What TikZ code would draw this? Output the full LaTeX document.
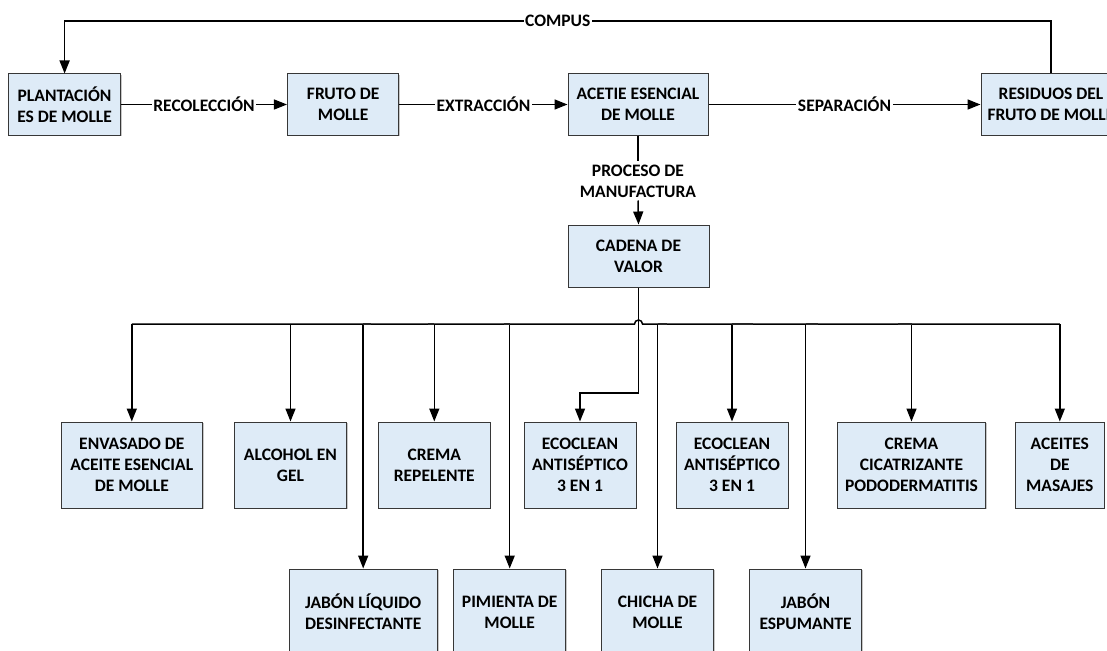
\documentclass[tikz,border=0pt]{standalone}
\usepackage{fontspec}
\setmainfont{Carlito}
\usetikzlibrary{arrows.meta,shadows}
\definecolor{boxfill}{RGB}{222,235,247}
\definecolor{boxline}{RGB}{55,55,55}

\begin{document}
\begin{tikzpicture}[x=1pt,y=-1pt,
  txt/.style={font=\fontsize{17.5}{21}\selectfont\bfseries, align=center},
  box/.style={txt, draw=boxline, fill=boxfill, line width=1pt, inner sep=0pt,
    drop shadow={shadow xshift=1.2pt, shadow yshift=-1.2pt, opacity=0.22, fill=black}},
  top/.style={box, minimum height=61},
  mid/.style={box, minimum height=86},
  conn/.style={draw=black, line width=1.5pt},
  arr/.style={-{Triangle[length=13pt,width=10pt]}},
  lbl/.style={txt, fill=white, inner xsep=1.5pt, inner ysep=1pt},
  seam/.style={draw=black!85, line width=2.1pt}]

\useasboundingbox (0,0) rectangle (1107,650);
\clip (0,0) rectangle (1107,650);

% upper process chain
\node[top, minimum width=112]   (plant)  at (64.6,104.5) {PLANTACIÓN\\ES DE MOLLE};
\node[top, minimum width=111.5] (fruto)  at (343.2,104.5) {FRUTO DE\\MOLLE};
\node[top, minimum width=140]   (acetie) at (638,104.5) {ACETIE ESENCIAL\\DE MOLLE};
\node[top, minimum width=140]   (resid)  at (1051,104.5) {RESIDUOS DEL\\FRUTO DE MOLLE};
\node[top, minimum width=141, minimum height=62] (cadena) at (638.5,256) {CADENA DE\\VALOR};

% products, first row
\node[mid, minimum width=141]   (envasado) at (131.8,465) {ENVASADO DE\\ACEITE ESENCIAL\\DE MOLLE};
\node[mid, minimum width=112]   (alcohol)  at (290.5,465) {ALCOHOL EN\\GEL};
\node[mid, minimum width=111.5] (crema)    at (434.3,465) {CREMA\\REPELENTE};
\node[mid, minimum width=112]   (eco1)     at (580,465)   {ECOCLEAN\\ANTISÉPTICO\\3 EN 1};
\node[mid, minimum width=112]   (eco2)     at (732,465)   {ECOCLEAN\\ANTISÉPTICO\\3 EN 1};
\node[mid, minimum width=148]   (cicatr)   at (911.5,465) {CREMA\\CICATRIZANTE\\PODODERMATITIS};
\node[mid, minimum width=88.5]  (aceites)  at (1059.8,465) {ACEITES\\DE\\MASAJES};

% products, second row
\node[mid, minimum width=148.3] (jabonl)   at (363.2,612) {JABÓN LÍQUIDO\\DESINFECTANTE};
\node[mid, minimum width=112]   (pimienta) at (509.7,612) {PIMIENTA DE\\MOLLE};
\node[mid, minimum width=112.5] (chicha)   at (657.5,612) {CHICHA DE\\MOLLE};
\node[mid, minimum width=112]   (jabone)   at (805.5,612) {JABÓN\\ESPUMANTE};

% levels of the routed lines
\coordinate (ctop) at (0,21);
\coordinate (busy) at (0,324);
\coordinate (jog)  at (0,393);

% main chain
\draw[conn,arr] (plant) -- node[lbl]{RECOLECCIÓN} (fruto);
\draw[conn,arr] (fruto) -- node[lbl]{EXTRACCIÓN} (acetie);
\draw[conn,arr] (acetie) -- node[lbl]{SEPARACIÓN} (resid);

% compost loop back to the plantation
\draw[conn,arr] (resid.north) -- (resid.north |- ctop)
  -- node[lbl]{COMPUS} (plant.north |- ctop) -- (plant.north);

% manufacturing step
\node[lbl, inner ysep=3pt] (proc) at (638,181) {PROCESO DE\\MANUFACTURA};
\draw[conn] (acetie.south) -- (proc.north);
\draw[conn,arr] (proc.south) -- (cadena.north);

% distribution bus with a hop over the central line
\coordinate (hop) at (cadena.south |- busy);
\draw[conn] (envasado.north |- busy) -- ([xshift=-4pt]hop)
  arc[start angle=180, end angle=360, radius=4] -- (aceites.north |- busy);
\draw[conn,arr] (cadena.south) -- (cadena.south |- jog) -| (eco1.north);

\foreach \n in {envasado,alcohol,crema,eco2,cicatr,aceites,jabonl,pimienta,chicha,jabone}
  \draw[conn,arr] (\n.north |- busy) -- (\n.north);

% overlapping connector ends along the bus
\draw[seam] (jabonl.north |- busy) -- ++(8,0);
\draw[seam] (crema.north |- busy) -- ++(-6,0);
\draw[seam] (pimienta.north |- busy) -- ++(-6,0);
\draw[seam] (chicha.north |- busy) -- ++(9,0);
\draw[seam] (eco2.north |- busy) -- ++(21,0);
\draw[seam] (jabone.north |- busy) -- ++(12,0);
\draw[seam] (cicatr.north |- busy) -- ++(-14,0);
\end{tikzpicture}
\end{document}
